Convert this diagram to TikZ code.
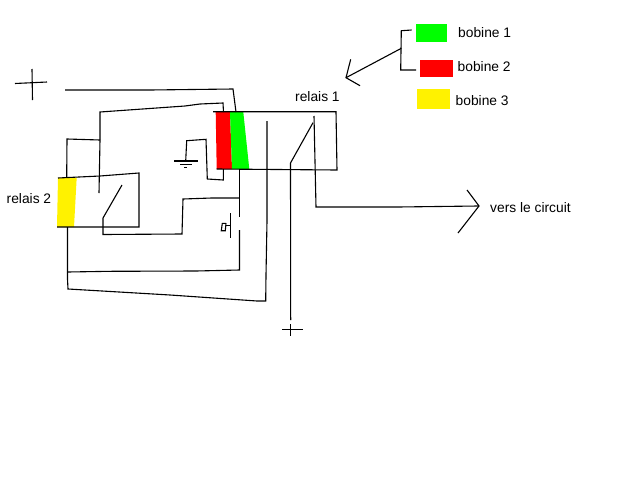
\documentclass[tikz,border=0pt]{standalone}
\usepackage{fontspec}
\setmainfont{Liberation Sans}
\tikzset{
  wire/.style={draw=black,line width=1.1pt,line join=miter},
  coilg/.style={fill=green},
  coilr/.style={fill=red},
  coily/.style={fill=yellow},
  lab/.style={anchor=base west,inner sep=0pt,font=\fontsize{13.8}{15}\selectfont,text=black}
}
\begin{document}
\begin{tikzpicture}[x=1pt,y=-1pt]
\useasboundingbox[fill=white] (0,0) rectangle (640,480);
% coloured fills
\fill[coilr] (215.7,112) -- (230,112) -- (232,169) -- (216.7,169) -- cycle;
\fill[coilg] (230,112) -- (243.3,112) -- (249.3,169) -- (232,169) -- cycle;
\fill[coily] (58,178) -- (76.7,177.5) -- (74,227) -- (57,227) -- cycle;
\fill[coilg] (416,24) rectangle (447,42);
\fill[coilr] (420,60) rectangle (453,77);
\fill[coily] (417,89) rectangle (450,109);
% plus, top left
\draw[wire] (15,83.5) -- (47,82);
\draw[wire] (32,69) -- (32.5,100);
% feed wires
\draw[wire] (65,90) -- (150,90) -- (233,89) -- (236,112);
\draw[wire] (99,193) -- (100,140) -- (100,112) -- (185,106) -- (200,104) -- (223,103) -- (223.5,112);
\draw[wire] (100,140) -- (67,139) -- (66.7,177);
% relay 1 box
\draw[wire] (213,111.7) -- (336,111.7) -- (337,170) -- (277,169.5) -- (216.7,169);
% relay 2 box
\draw[wire] (58,178) -- (100,176) -- (139,173) -- (139,227) -- (57,227);
% relay 2 switch
\draw[wire] (122,185) -- (103,218) -- (103,234.5) -- (182,234) -- (183,199) -- (211.7,198) -- (239.5,198);
% ground
\draw[wire] (223.3,169) -- (223.3,180) -- (207.3,179) -- (206,139.3) -- (186.7,140.7) -- (185.7,161);
\draw[wire] (174,161) -- (198,161);
\draw[wire] (180,164.8) -- (191.7,164.8);
\draw[wire] (184,167.8) -- (187.3,167.8);
% push button
\draw[wire] (239.5,169) -- (239.5,217);
\draw[wire] (239.5,230) -- (239.5,270) -- (196,271) -- (110,271.3) -- (67.7,272);
\draw[wire] (230.3,213.3) -- (230.3,237.7);
\draw[wire] (226,225.7) -- (230.3,225.7);
\draw[wire] (226,223.3) -- (222.3,223.3) -- (221.3,230.7) -- (225.3,230.7) -- (226,223.3);
% lower return
\draw[wire] (67.5,227) -- (67.5,279) -- (68,289) -- (170,295) -- (257,301) -- (265.7,301) -- (266,275) -- (267,221) -- (267,121);
% relay 1 switch
\draw[wire] (313,122.7) -- (290.5,163) -- (290.7,320);
\draw[wire] (282,329.3) -- (302.7,329.3);
\draw[wire] (290.7,324) -- (290.7,336);
% output
\draw[wire] (314,116) -- (316,207) -- (398,207) -- (478,206);
\draw[wire] (467,190) -- (479,206) -- (458,233);
% legend brace and arrow
\draw[wire] (411.7,30) -- (401.3,30.7) -- (400.7,70) -- (416,70);
\draw[wire] (401.3,48.3) -- (346,77.7);
\draw[wire] (350.7,59.3) -- (346,77.7) -- (360,85.7);
% labels
\node[lab] (r1) at (295,101) {relais 1};
\node[lab] (r2) at (6.5,203.5) {relais 2};
\node[lab] (b1) at (458,37.5) {bobine 1};
\node[lab] (b2) at (457.5,71.5) {bobine 2};
\node[lab] (b3) at (455.5,105.5) {bobine 3};
\node[lab] (vc) at (490,212) {vers le circuit};
\end{tikzpicture}
\end{document}
